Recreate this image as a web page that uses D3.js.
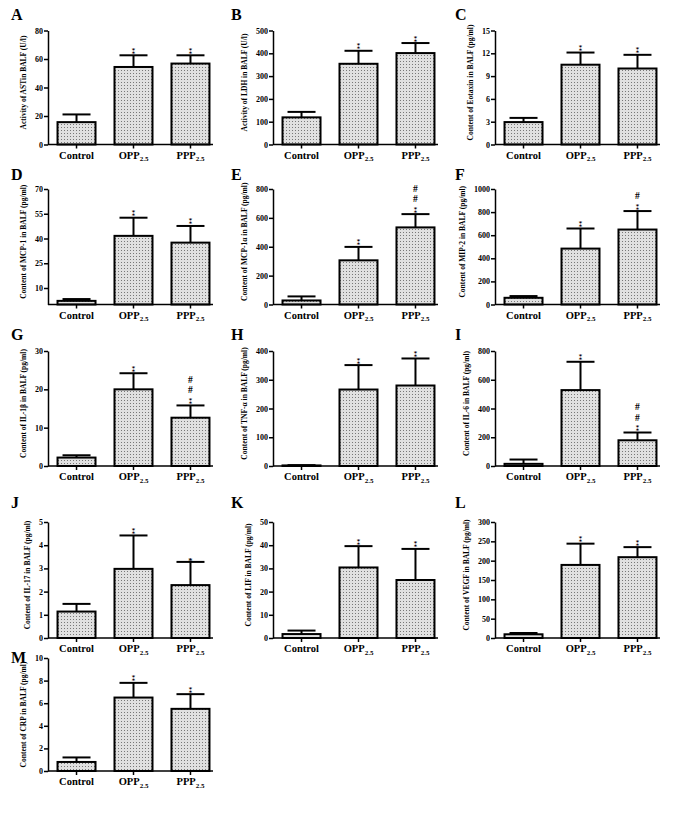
<!DOCTYPE html>
<html><head><meta charset="utf-8">
<script src="https://cdn.jsdelivr.net/npm/d3@7"></script>
<style>body{margin:0;background:#fff}svg{display:block}</style>
</head><body>
<script>
const categories = ["Control", "OPP", "PPP"];
const letters = ["A","B","C","D","E","F","G","H","I","J","K","L","M"];
const yLabels = [
 "Activity of ASTin BALF (U/l)",
 "Activity of LDH in BALF (U/l)",
 "Content of Eotaxin in BALF (pg/ml)",
 "Content of MCP-1 in BALF (pg/ml)",
 "Content of MCP-1α in BALF (pg/ml)",
 "Content of MIP-2 in BALF (pg/ml)",
 "Content of IL-1β in BALF (pg/ml)",
 "Content of TNF-α in BALF (pg/ml)",
 "Content of IL-6 in BALF (pg/ml)",
 "Content of IL-17 in BALF (pg/ml)",
 "Content of LIF in BALF (pg/ml)",
 "Content of VEGF in BALF (pg/ml)",
 "Content of CRP in BALF (pg/ml)"];
const yMax = [80,500,15,70,800,1000,30,400,800,5,50,300,10];
const yTicks = [
 [0,20,40,60,80],[0,100,200,300,400,500],[0,3,6,9,12,15],[10,25,40,55,70],
 [0,200,400,600,800],[0,200,400,600,800,1000],[0,10,20,30],[0,100,200,300,400],
 [0,200,400,600,800],[0,1,2,3,4,5],[0,10,20,30,40,50],[0,50,100,150,200,250,300],
 [0,2,4,6,8,10]];
const controlMean = [15.7,119,2.95,2.2,28,58,2.2,2,15,1.14,1.7,9.6,0.8];
const controlErr  = [21.1,143,3.5,3.3,56,73,2.8,3,45,1.47,3.2,13,1.2];
const oppMean = [54.4,354,10.5,41.6,306,484,20.0,266,528,2.98,30.4,189,6.5];
const oppErr  = [62.6,411,12.1,52.6,399,658,24.2,351,725,4.42,39.6,244,7.8];
const pppMean = [56.8,401,10.0,37.5,534,649,12.6,280,179,2.28,25.0,209,5.5];
const pppErr  = [62.6,445,11.8,47.6,626,809,15.8,374,233,3.28,38.4,235,6.8];
const oppMark = ["**","**","**","**","**","**","**","**","**","**","**","**","**"];
const pppMark = ["**","**","**","**","##**","#**","##**","**","##**","*","**","**","**"];

const W = 677, H = 822;
const svg = d3.select("body").append("svg").attr("width", W).attr("height", H);
const defs = svg.append("defs");
const pat = defs.append("pattern").attr("id","dots").attr("patternUnits","userSpaceOnUse")
  .attr("width",3).attr("height",3);
pat.append("rect").attr("width",3).attr("height",3).attr("fill","#e0e0e0");
pat.append("rect").attr("x",1).attr("y",1).attr("width",1).attr("height",1).attr("fill","#777");

const colX = [48, 273, 495];
const rows = [
 {top:30.5, bottom:144.5, letterY:20, lshift:-5},
 {top:189, bottom:304.5, letterY:180, lshift:-5},
 {top:351, bottom:466, letterY:340, lshift:-5},
 {top:522, bottom:638, letterY:508, lshift:-5},
 {top:658, bottom:771, letterY:663, lshift:0}
];
const letterX = [11, 231, 455];
const font = "'Liberation Serif','Times New Roman',serif";
const symFont = "'Liberation Serif','DejaVu Serif','DejaVu Sans',serif";

letters.forEach((L, i) => {
  const r = rows[Math.floor(i/3)], c = i % 3;
  const ax = colX[c];
  const g = svg.append("g");
  const y = d3.scaleLinear().domain([0, yMax[i]]).range([r.bottom, r.top]);
  const x = d3.scaleBand().domain(categories).range([ax, ax+171]).paddingInner(0.333).paddingOuter(0.167);
  const means = [controlMean[i], oppMean[i], pppMean[i]];
  const errs = [controlErr[i], oppErr[i], pppErr[i]];
  const marks = ["", oppMark[i], pppMark[i]];

  g.append("text").attr("x", letterX[c]).attr("y", r.letterY).text(L)
    .attr("font-family", font).attr("font-weight","bold").attr("font-size", 16).attr("fill","#000");

  categories.forEach((cat, k) => {
    const cx = x(cat) + x.bandwidth()/2;
    g.append("line").attr("x1",cx).attr("x2",cx).attr("y1",y(means[k])).attr("y2",y(errs[k]))
      .attr("stroke","#000").attr("stroke-width",2);
    g.append("line").attr("x1",cx-14).attr("x2",cx+14).attr("y1",y(errs[k])).attr("y2",y(errs[k]))
      .attr("stroke","#000").attr("stroke-width",2);
  });
  g.selectAll("rect.bar").data(categories).join("rect").attr("class","bar")
    .attr("x", d => x(d)).attr("width", x.bandwidth())
    .attr("y", (d,k) => y(means[k])).attr("height", (d,k) => r.bottom - y(means[k]))
    .attr("fill","url(#dots)").attr("stroke","#000").attr("stroke-width",2);

  categories.forEach((cat, k) => {
    const m = marks[k]; if (!m) return;
    const cx = x(cat) + x.bandwidth()/2;
    const capY = y(errs[k]);
    const stars = m.replace(/#/g,"").length, hashes = m.replace(/\*/g,"").length;
    g.append("text").attr("x", cx).attr("y", stars === 2 ? capY - 1.5 : capY + 2)
      .attr("text-anchor","middle").attr("font-family", symFont).attr("font-weight","bold")
      .attr("font-size", stars === 2 ? 8 : 8.5).attr("fill","#000")
      .text(stars === 2 ? "\u2051" : "*");
    for (let h = 0; h < hashes; h++) {
      g.append("text").attr("x", cx).attr("y", capY - 12 - 10.5*h)
        .attr("text-anchor","middle").attr("font-family", font).attr("font-weight","bold")
        .attr("font-size", 9.5).attr("fill","#000").text("#");
    }
  });

  const ya = g.append("g").attr("transform", `translate(${ax},0)`)
    .call(d3.axisLeft(y).tickValues(yTicks[i]).tickSize(4).tickSizeOuter(0).tickFormat(d3.format("d")));
  ya.select(".domain").attr("stroke","#000").attr("stroke-width",1.5);
  ya.selectAll(".tick line").attr("stroke","#000").attr("stroke-width",1.5);
  ya.selectAll(".tick text").attr("font-family", font).attr("font-weight","bold").attr("font-size",8)
    .attr("fill","#000").attr("x",-5);
  let maxW = 0;
  ya.selectAll(".tick text").each(function(){ maxW = Math.max(maxW, this.getComputedTextLength()); });

  const xa = g.append("g").attr("transform", `translate(0,${r.bottom})`)
    .call(d3.axisBottom(x).tickSize(4).tickSizeOuter(0).tickFormat(""));
  xa.select(".domain").attr("d", `M${ax},0H${ax+165}`).attr("stroke","#000").attr("stroke-width",1.5);
  xa.selectAll(".tick line").attr("stroke","#000").attr("stroke-width",1.5);
  categories.forEach(cat => {
    const cx = x(cat) + x.bandwidth()/2;
    const t = g.append("text").attr("x", cx).attr("y", r.bottom + 14).attr("text-anchor","middle")
      .attr("font-family", font).attr("font-weight","bold").attr("font-size", 10.5).attr("fill","#000");
    t.append("tspan").text(cat);
    if (cat !== "Control") t.append("tspan").attr("font-size", 7).attr("dy", 2.5).text("2.5");
  });

  const ymid = (r.top + r.bottom)/2 + r.lshift;
  const lx = ax - 7 - 5 - maxW - 2;
  g.append("text").attr("transform", `translate(${lx},${ymid}) rotate(-90)`)
    .attr("text-anchor","middle").attr("font-family", font).attr("font-weight","bold")
    .attr("font-size", 7.5).attr("fill","#000").text(yLabels[i]);
});
</script>
</body></html>
